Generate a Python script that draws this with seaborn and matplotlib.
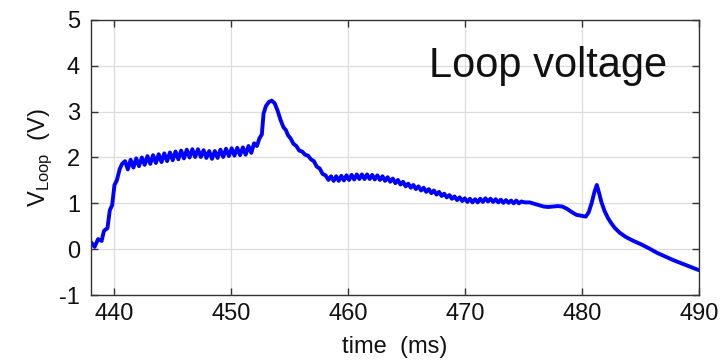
import matplotlib
matplotlib.use("Agg")
import matplotlib.pyplot as plt
import seaborn as sns
import pandas as pd

# values (time in ms, loop voltage in V)
time_ms = [
    438.00, 438.30, 438.60, 438.90, 439.10, 439.40, 439.60, 439.80, 440.00, 440.20,
    440.45, 440.65,
    440.90, 441.14, 441.38, 441.62, 441.86, 442.10, 442.34, 442.58, 442.82, 443.06,
    443.30, 443.54, 443.78, 444.02, 444.26, 444.50, 444.74, 444.98, 445.22, 445.46,
    445.70, 445.94, 446.18, 446.42, 446.66, 446.90, 447.14, 447.38, 447.62, 447.86,
    448.10, 448.34, 448.58, 448.82, 449.06, 449.30, 449.54, 449.78, 450.02, 450.26,
    450.50, 450.74, 450.98, 451.22, 451.46, 451.70, 451.94, 452.18,
    452.40, 452.60, 452.75, 452.95, 453.20, 453.45, 453.70, 453.95, 454.20, 454.45,
    454.65, 454.85, 455.05, 455.30, 455.55, 455.80, 456.05, 456.30, 456.55, 456.80,
    457.05, 457.30, 457.55, 457.80, 458.05, 458.30,
    458.52, 458.74, 458.96, 459.18, 459.40, 459.62, 459.84, 460.06, 460.28, 460.50,
    460.72, 460.94, 461.16, 461.38, 461.60, 461.82, 462.04, 462.26, 462.48, 462.70,
    462.92, 463.14, 463.36, 463.58, 463.80, 464.02, 464.24, 464.46, 464.68, 464.90,
    465.12, 465.34, 465.56, 465.78, 466.00, 466.22, 466.44, 466.66, 466.88, 467.10,
    467.32, 467.54, 467.76, 467.98, 468.20, 468.42, 468.64, 468.86, 469.08, 469.30,
    469.52, 469.74, 469.96, 470.18, 470.40, 470.62, 470.84, 471.06, 471.28, 471.50,
    471.72, 471.94, 472.16, 472.38, 472.60, 472.82, 473.04, 473.26, 473.48, 473.70,
    473.92, 474.14, 474.36, 474.58, 474.80,
    475.10, 475.50, 475.90, 476.30, 476.70, 477.10, 477.50, 477.90, 478.30, 478.70,
    479.10, 479.50, 479.90, 480.30, 480.55, 480.80, 481.05, 481.25, 481.45, 481.65,
    481.90, 482.20, 482.50, 482.80, 483.20, 483.70, 484.30, 485.00, 485.70, 486.40,
    487.10, 487.80, 488.50, 489.20, 490.00,
]
v_loop = [
    0.15, 0.05, 0.22, 0.18, 0.40, 0.46, 0.85, 0.96, 1.40, 1.50,
    1.75, 1.86,
    1.92, 1.74, 1.95, 1.78, 1.98, 1.81, 2.00, 1.84, 2.03, 1.86,
    2.05, 1.88, 2.07, 1.90, 2.09, 1.92, 2.11, 1.94, 2.13, 1.96,
    2.15, 1.98, 2.17, 2.00, 2.18, 2.01, 2.18, 2.01, 2.16, 1.99,
    2.14, 1.97, 2.14, 1.99, 2.17, 2.01, 2.19, 2.03, 2.20, 2.04,
    2.21, 2.05, 2.22, 2.06, 2.25, 2.10, 2.31, 2.25,
    2.42, 2.50, 2.96, 3.12, 3.21, 3.24, 3.18, 3.02, 2.82, 2.66,
    2.60, 2.48, 2.42, 2.30, 2.25, 2.15, 2.13, 2.06, 2.04, 1.96,
    1.92, 1.80, 1.76, 1.64, 1.61, 1.51,
    1.59, 1.49, 1.59, 1.49, 1.60, 1.50, 1.61, 1.51, 1.62, 1.52,
    1.63, 1.53, 1.63, 1.53, 1.63, 1.53, 1.62, 1.52, 1.61, 1.51,
    1.59, 1.49, 1.57, 1.47, 1.54, 1.44, 1.51, 1.41, 1.47, 1.37,
    1.43, 1.34, 1.40, 1.31, 1.37, 1.28, 1.34, 1.25, 1.31, 1.22,
    1.28, 1.19, 1.25, 1.16, 1.21, 1.13, 1.18, 1.10, 1.15, 1.07,
    1.13, 1.05, 1.11, 1.03, 1.10, 1.02, 1.09, 1.02, 1.10, 1.03,
    1.11, 1.04, 1.10, 1.03, 1.09, 1.02, 1.08, 1.01, 1.07, 1.01,
    1.06, 1.00, 1.06, 1.00, 1.04,
    1.02, 1.02, 0.99, 0.96, 0.93, 0.92, 0.93, 0.94, 0.93, 0.88,
    0.81, 0.75, 0.73, 0.71, 0.80, 1.00, 1.25, 1.40, 1.22, 1.02,
    0.84, 0.68, 0.56, 0.46, 0.36, 0.27, 0.19, 0.11, 0.02, -0.08,
    -0.16, -0.24, -0.31, -0.38, -0.46,
]

x_ticks = [440, 450, 460, 470, 480, 490]
y_ticks = [-1, 0, 1, 2, 3, 4, 5]

df = pd.DataFrame({"time": time_ms, "vloop": v_loop})

sns.set_theme(style="ticks")
plt.rcParams["font.family"] = ["Liberation Sans", "DejaVu Sans"]
plt.rcParams["mathtext.fontset"] = "custom"
plt.rcParams["mathtext.rm"] = "Liberation Sans"
plt.rcParams["axes.unicode_minus"] = False

fig = plt.figure(figsize=(7.23, 3.62), dpi=100)
ax = fig.add_axes([0.126, 0.185, 0.841, 0.760])

sns.lineplot(data=df, x="time", y="vloop", ax=ax, color="#0000FF",
             linewidth=2.8, estimator=None, sort=False)

ax.set_xlim(438, 490)
ax.set_ylim(-1, 5)
ax.set_xticks(x_ticks)
ax.set_yticks(y_ticks)
ax.grid(True, color="#dcdcdc", linewidth=0.9)
ax.set_axisbelow(True)

for s in ax.spines.values():
    s.set_color("#333333")
    s.set_linewidth(1.0)

ax.tick_params(direction="in", top=True, right=True, length=5, width=1,
               color="#333333", labelsize=17, labelcolor="#111111")
ax.tick_params(axis="x", pad=6)
ax.tick_params(axis="y", pad=8)

ax.set_xlabel("time  (ms)", fontsize=17, color="#111111", labelpad=8)
ax.set_ylabel(r"V$_{\mathregular{Loop}}$  (V)", fontsize=17, color="#111111", labelpad=4)

ax.text(0.947, 0.793, "Loop voltage", transform=ax.transAxes, ha="right",
        va="baseline", fontsize=30, color="#111111")

fig.savefig("out.png", dpi=100)
